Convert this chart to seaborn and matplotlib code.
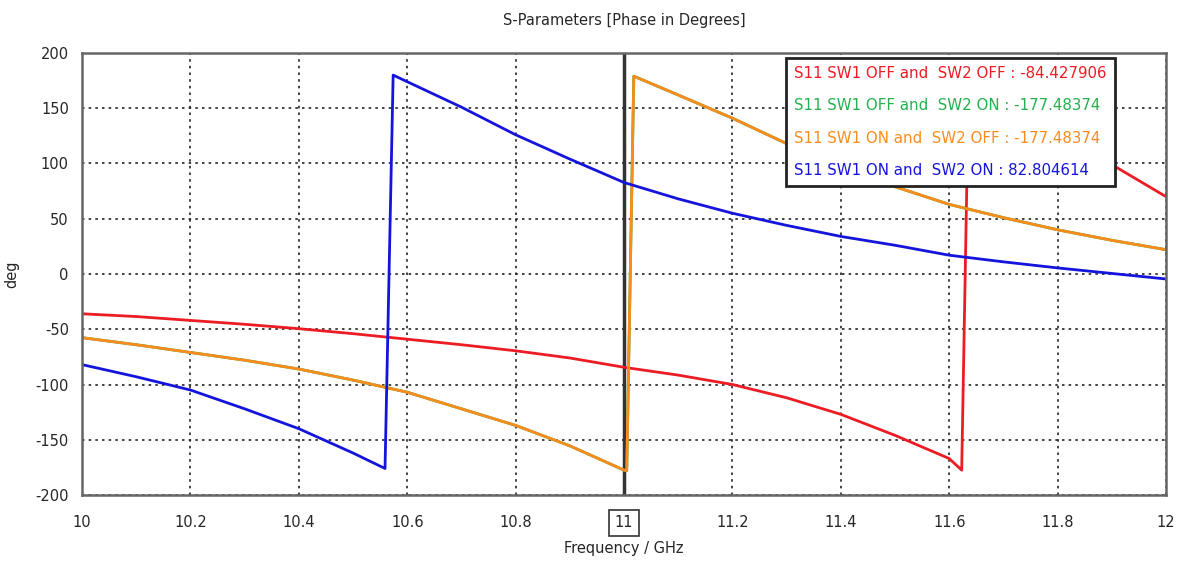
import pandas as pd
import seaborn as sns
import matplotlib.pyplot as plt
from matplotlib.lines import Line2D

# Data (phase in degrees)
red_freq = [10.0, 10.1, 10.2, 10.3, 10.4, 10.5, 10.6, 10.7, 10.8, 10.9, 11.0, 11.1, 11.2,
            11.3, 11.4, 11.5, 11.6, 11.623, 11.636, 11.7, 11.8, 11.9, 12.0]
red_phase = [-36, -38.5, -42, -45.5, -49.5, -54, -59, -64, -69.5, -76, -84.43, -91.5, -100,
             -112, -127, -146, -167, -177.5, 179.5, 160, 130, 99, 70]

orange_freq = [10.0, 10.1, 10.2, 10.3, 10.4, 10.5, 10.6, 10.7, 10.8, 10.9, 11.0, 11.005,
               11.018, 11.1, 11.2, 11.3, 11.4, 11.5, 11.6, 11.7, 11.8, 11.9, 12.0]
orange_phase = [-57.6, -64, -71, -78, -86, -96, -107, -122, -137, -155.5, -177.48, -178,
                179, 162, 141, 118, 97, 79, 63, 51, 40, 30.5, 22]

# green trace coincides with the orange one (same marker value), hidden underneath
green_freq = list(orange_freq)
green_phase = list(orange_phase)

blue_freq = [10.0, 10.1, 10.2, 10.3, 10.4, 10.5, 10.559, 10.574, 10.6, 10.7, 10.8, 10.9,
             11.0, 11.1, 11.2, 11.3, 11.4, 11.5, 11.6, 11.7, 11.8, 11.9, 12.0]
blue_phase = [-82, -93, -105, -122, -140, -162, -176, 180, 174, 151, 126, 104,
              82.8, 68, 55, 44, 34, 26, 17, 11, 5.5, 0.5, -4.5]

labels = ['S11 SW1 OFF and  SW2 OFF : -84.427906',
          'S11 SW1 OFF and  SW2 ON : -177.48374',
          'S11 SW1 ON and  SW2 OFF : -177.48374',
          'S11 SW1 ON and  SW2 ON : 82.804614']
colors = ['#ec1c24', '#22b14c', '#fb8c1c', '#1414dc']

frames = []
for lab, f, p in zip(labels, [red_freq, green_freq, orange_freq, blue_freq],
                     [red_phase, green_phase, orange_phase, blue_phase]):
    frames.append(pd.DataFrame({'freq': f, 'phase': p, 'trace': lab}))
df = pd.concat(frames, ignore_index=True)

sns.set_style('white')
plt.rcParams['font.family'] = ['DejaVu Sans']
plt.rcParams['axes.unicode_minus'] = False

fig = plt.figure(figsize=(11.79, 5.62), dpi=100)
ax = fig.add_axes([0.0696, 0.1192, 0.9194, 0.7865])

sns.lineplot(data=df, x='freq', y='phase', hue='trace', palette=dict(zip(labels, colors)),
             hue_order=labels, sort=False, estimator=None, linewidth=2, legend=False, ax=ax)

# marker line at 11 GHz
ax.axvline(11, color='#333333', linewidth=2.5, zorder=1)

ax.set_xlim(10, 12)
ax.set_ylim(-200, 200)
ax.set_xticks([10, 10.2, 10.4, 10.6, 10.8, 11, 11.2, 11.4, 11.6, 11.8, 12])
ax.set_xticklabels(['10', '10.2', '10.4', '10.6', '10.8', '11', '11.2', '11.4', '11.6', '11.8', '12'])
ax.set_yticks(range(-200, 201, 50))
ax.grid(True, color='#222222', linestyle=(0, (1.5, 2.5)), linewidth=1.2)
ax.tick_params(axis='both', direction='inout', length=7, width=1.2, color='#444444',
               labelsize=10.5)
ax.tick_params(axis='x', pad=11)
ax.tick_params(axis='y', pad=6)
for sp in ax.spines.values():
    sp.set_color('#666666')
    sp.set_linewidth(1.8)

for t in ax.get_xticklabels():
    if t.get_text() == '11':
        t.set_bbox(dict(facecolor='white', edgecolor='#333333', linewidth=1.2, pad=4))

ax.set_title('S-Parameters [Phase in Degrees]', fontsize=10.5, pad=20)
ax.set_xlabel('Frequency / GHz', fontsize=10.5, labelpad=8)
ax.set_ylabel('deg', fontsize=10.5)
ax.yaxis.set_label_coords(-0.058, 0.5)

handles = [Line2D([], [], color=c, linewidth=0) for c in colors]
leg = ax.legend(handles, labels, loc='upper right', bbox_to_anchor=(0.953, 0.989),
                handlelength=0, handletextpad=0, labelcolor=colors, fontsize=10.8,
                frameon=True, fancybox=False, framealpha=1, edgecolor='#222222',
                borderpad=0.55, labelspacing=1.15, borderaxespad=0)
leg.get_frame().set_linewidth(2)

plt.savefig('out.png', dpi=100)
